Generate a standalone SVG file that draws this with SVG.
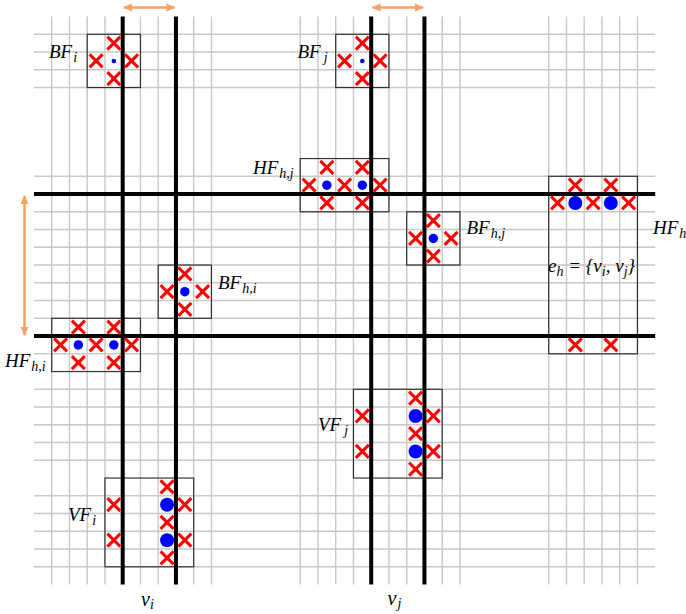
<svg xmlns="http://www.w3.org/2000/svg" xmlns:xlink="http://www.w3.org/1999/xlink" width="686" height="614" viewBox="0 0 686 614">
<style>
.g{stroke:#c8c8c8;stroke-width:1.4;fill:none}
.t{stroke:#000;stroke-width:4;fill:none}
.box{fill:none;stroke:#333;stroke-width:1.2}
.dot{fill:#0000ff}
.arr{stroke:#f5a262;stroke-width:2.5;fill:none}
.lbl{font-family:"Liberation Serif","Times New Roman",serif;font-style:italic;font-size:19px;fill:#000}
.sub{font-size:14px}
</style>
<defs>
<g id="x"><path d="M-6.5,-6.5 L6.5,6.5 M-6.5,6.5 L6.5,-6.5" stroke="#ff0000" stroke-width="3" fill="none"/></g>
<marker id="ah" viewBox="0 0 10 10" refX="9" refY="5" markerWidth="9" markerHeight="9" markerUnits="userSpaceOnUse" orient="auto-start-reverse"><path d="M0,0.5 L10,5 L0,9.5 z" fill="#f5a262"/></marker>
</defs>
<rect width="686" height="614" fill="#fff"/>
<g id="grid">
<path class="g" d="M51.7,16.55V584.55 M69.45,16.55V584.55 M87.2,16.55V584.55 M104.95,16.55V584.55 M140.45,16.55V584.55 M158.2,16.55V584.55 M193.7,16.55V584.55 M211.45,16.55V584.55 M300.2,16.55V584.55 M317.95,16.55V584.55 M335.7,16.55V584.55 M353.45,16.55V584.55 M388.95,16.55V584.55 M406.7,16.55V584.55 M442.2,16.55V584.55 M459.95,16.55V584.55 M548.7,16.55V584.55 M566.45,16.55V584.55 M584.2,16.55V584.55 M601.95,16.55V584.55 M619.7,16.55V584.55 M637.45,16.55V584.55"/>
<path class="g" d="M33.95,34.3H655.2 M33.95,52.05H655.2 M33.95,69.8H655.2 M33.95,87.55H655.2 M33.95,176.3H655.2 M33.95,211.8H655.2 M33.95,229.55H655.2 M33.95,247.3H655.2 M33.95,265.05H655.2 M33.95,282.8H655.2 M33.95,300.55H655.2 M33.95,318.3H655.2 M33.95,353.8H655.2 M33.95,389.3H655.2 M33.95,407.05H655.2 M33.95,424.8H655.2 M33.95,442.55H655.2 M33.95,460.3H655.2 M33.95,495.8H655.2 M33.95,513.55H655.2 M33.95,531.3H655.2 M33.95,549.05H655.2 M33.95,566.8H655.2"/>
</g>
<g id="boxes">
<rect class="box" x="87.2" y="34.3" width="53.25" height="53.25"/>
<rect class="box" x="335.7" y="34.3" width="53.25" height="53.25"/>
<rect class="box" x="300.2" y="158.55" width="88.75" height="53.25"/>
<rect class="box" x="406.7" y="211.8" width="53.25" height="53.25"/>
<rect class="box" x="158.2" y="265.05" width="53.25" height="53.25"/>
<rect class="box" x="51.7" y="318.3" width="88.75" height="53.25"/>
<rect class="box" x="548.7" y="176.3" width="88.75" height="177.5"/>
<rect class="box" x="353.45" y="389.3" width="88.75" height="88.75"/>
<rect class="box" x="104.95" y="478.05" width="88.75" height="88.75"/>
</g>
<g id="thick">
<path class="t" d="M122.7,16.55V584.55 M175.95,16.55V584.55 M371.2,16.55V584.55 M424.45,16.55V584.55 M33.95,194.05H655.2 M33.95,336.05H655.2"/>
</g>
<g id="connectors">
<path class="arr" d="M124,7.5H174.5" marker-start="url(#ah)" marker-end="url(#ah)"/>
<path class="arr" d="M372.5,7.5H423" marker-start="url(#ah)" marker-end="url(#ah)"/>
<path class="arr" d="M24.5,196V335" marker-start="url(#ah)" marker-end="url(#ah)"/>
</g>
<g id="BF_i">
<use xlink:href="#x" x="113.83" y="43.18"/><use xlink:href="#x" x="96.08" y="60.93"/><use xlink:href="#x" x="131.58" y="60.93"/><use xlink:href="#x" x="113.83" y="78.68"/>
<circle class="dot" cx="113.83" cy="60.93" r="2.3"/>
<text class="lbl" x="49" y="58">BF<tspan class="sub" dx="1" dy="4">i</tspan></text>
</g>
<g id="BF_j">
<use xlink:href="#x" x="362.33" y="43.18"/><use xlink:href="#x" x="344.58" y="60.93"/><use xlink:href="#x" x="380.08" y="60.93"/><use xlink:href="#x" x="362.33" y="78.68"/>
<circle class="dot" cx="362.33" cy="60.93" r="2.3"/>
<text class="lbl" x="297.5" y="58">BF<tspan class="sub" dx="3" dy="4">j</tspan></text>
</g>
<g id="HF_hj">
<use xlink:href="#x" x="326.83" y="167.43"/><use xlink:href="#x" x="362.33" y="167.43"/>
<use xlink:href="#x" x="309.08" y="185.18"/><use xlink:href="#x" x="344.58" y="185.18"/><use xlink:href="#x" x="380.08" y="185.18"/>
<use xlink:href="#x" x="326.83" y="202.93"/><use xlink:href="#x" x="362.33" y="202.93"/>
<circle class="dot" cx="326.83" cy="185.18" r="4.7"/><circle class="dot" cx="362.33" cy="185.18" r="4.7"/>
<text class="lbl" x="253" y="173.5">HF<tspan class="sub" dx="1" dy="4">h,j</tspan></text>
</g>
<g id="BF_hj">
<use xlink:href="#x" x="433.33" y="220.68"/><use xlink:href="#x" x="415.58" y="238.43"/><use xlink:href="#x" x="451.08" y="238.43"/><use xlink:href="#x" x="433.33" y="256.18"/>
<circle class="dot" cx="433.33" cy="238.43" r="4.7"/>
<text class="lbl" x="466.5" y="234">BF<tspan class="sub" dx="1" dy="4">h,j</tspan></text>
</g>
<g id="BF_hi">
<use xlink:href="#x" x="184.83" y="273.93"/><use xlink:href="#x" x="167.08" y="291.68"/><use xlink:href="#x" x="202.58" y="291.68"/><use xlink:href="#x" x="184.83" y="309.43"/>
<circle class="dot" cx="184.83" cy="291.68" r="4.7"/>
<text class="lbl" x="218" y="288.5">BF<tspan class="sub" dx="1" dy="4">h,i</tspan></text>
</g>
<g id="HF_hi">
<use xlink:href="#x" x="78.33" y="327.18"/><use xlink:href="#x" x="113.83" y="327.18"/>
<use xlink:href="#x" x="60.58" y="344.93"/><use xlink:href="#x" x="96.08" y="344.93"/><use xlink:href="#x" x="131.58" y="344.93"/>
<use xlink:href="#x" x="78.33" y="362.68"/><use xlink:href="#x" x="113.83" y="362.68"/>
<circle class="dot" cx="78.33" cy="344.93" r="4.7"/><circle class="dot" cx="113.83" cy="344.93" r="4.7"/>
<text class="lbl" x="5" y="366.5">HF<tspan class="sub" dx="1" dy="4">h,i</tspan></text>
</g>
<g id="HF_h">
<use xlink:href="#x" x="575.33" y="185.18"/><use xlink:href="#x" x="610.83" y="185.18"/>
<use xlink:href="#x" x="557.58" y="202.93"/><use xlink:href="#x" x="593.08" y="202.93"/><use xlink:href="#x" x="628.58" y="202.93"/>
<use xlink:href="#x" x="575.33" y="344.93"/><use xlink:href="#x" x="610.83" y="344.93"/>
<circle class="dot" cx="575.33" cy="202.93" r="7"/><circle class="dot" cx="610.83" cy="202.93" r="7"/>
<text class="lbl" x="653" y="234">HF<tspan class="sub" dx="1" dy="4">h</tspan></text>
<text class="lbl" x="548" y="271.5" style="font-size:19px">e<tspan class="sub" dy="4">h</tspan><tspan dy="-4"> = {v</tspan><tspan class="sub" dy="4">i</tspan><tspan dy="-4">, v</tspan><tspan class="sub" dy="4">j</tspan><tspan dy="-4">}</tspan></text>
</g>
<g id="VF_j">
<use xlink:href="#x" x="362.33" y="415.93"/><use xlink:href="#x" x="362.33" y="451.43"/>
<use xlink:href="#x" x="415.58" y="398.18"/><use xlink:href="#x" x="415.58" y="433.68"/><use xlink:href="#x" x="415.58" y="469.18"/>
<use xlink:href="#x" x="433.33" y="415.93"/><use xlink:href="#x" x="433.33" y="451.43"/>
<circle class="dot" cx="415.58" cy="415.93" r="7"/><circle class="dot" cx="415.58" cy="451.43" r="7"/>
<text class="lbl" x="318" y="430.5">VF<tspan class="sub" dx="3" dy="4">j</tspan></text>
</g>
<g id="VF_i">
<use xlink:href="#x" x="113.83" y="504.68"/><use xlink:href="#x" x="113.83" y="540.18"/>
<use xlink:href="#x" x="167.08" y="486.93"/><use xlink:href="#x" x="167.08" y="522.43"/><use xlink:href="#x" x="167.08" y="557.93"/>
<use xlink:href="#x" x="184.83" y="504.68"/><use xlink:href="#x" x="184.83" y="540.18"/>
<circle class="dot" cx="167.08" cy="504.68" r="7"/><circle class="dot" cx="167.08" cy="540.18" r="7"/>
<text class="lbl" x="68" y="521">VF<tspan class="sub" dx="1" dy="4">i</tspan></text>
</g>
<g id="v_i"><text class="lbl" x="141" y="606" style="font-size:20px">v<tspan class="sub" dy="3">i</tspan></text></g>
<g id="v_j"><text class="lbl" x="387.5" y="605" style="font-size:20px">v<tspan class="sub" dx="1" dy="3">j</tspan></text></g>
</svg>
